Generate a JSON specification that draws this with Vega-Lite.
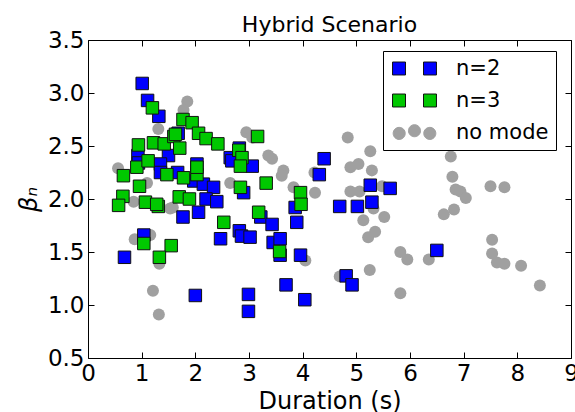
{
  "$schema": "https://vega.github.io/schema/vega-lite/v6.json",
  "width": 483,
  "height": 318,
  "autosize": "none",
  "padding": {"left": 88, "top": 40, "right": 4, "bottom": 54},
  "background": "white",
  "title": {"text": "Hybrid Scenario", "fontSize": 22, "font": "DejaVu Sans", "fontWeight": "normal", "anchor": "middle", "frame": "group", "offset": -8, "color": "black"},
  "config": {
    "view": {"stroke": "black", "strokeWidth": 1},
    "font": "DejaVu Sans",
    "axis": {"grid": false, "domain": false, "tickColor": "black", "tickSize": -6, "tickWidth": 1, "labelColor": "black", "titleColor": "black", "labelFont": "DejaVu Sans", "titleFont": "DejaVu Sans", "labelFontSize": 23, "titleFontSize": 24, "titleFontWeight": "normal", "labelFlush": false, "labelOverlap": false}
  },
  "data": {"values": [
    {"duration": 1.01, "beta": 3.09, "mode": "n=2"},
    {"duration": 1.11, "beta": 2.93, "mode": "n=2"},
    {"duration": 1.32, "beta": 2.78, "mode": "n=2"},
    {"duration": 0.93, "beta": 2.41, "mode": "n=2"},
    {"duration": 1.50, "beta": 2.41, "mode": "n=2"},
    {"duration": 1.35, "beta": 2.33, "mode": "n=2"},
    {"duration": 1.35, "beta": 2.25, "mode": "n=2"},
    {"duration": 0.94, "beta": 2.34, "mode": "n=2"},
    {"duration": 1.68, "beta": 2.62, "mode": "n=2"},
    {"duration": 1.67, "beta": 2.25, "mode": "n=2"},
    {"duration": 1.97, "beta": 2.17, "mode": "n=2"},
    {"duration": 2.03, "beta": 2.33, "mode": "n=2"},
    {"duration": 2.15, "beta": 2.14, "mode": "n=2"},
    {"duration": 2.34, "beta": 2.11, "mode": "n=2"},
    {"duration": 2.20, "beta": 2.00, "mode": "n=2"},
    {"duration": 2.40, "beta": 1.975, "mode": "n=2"},
    {"duration": 1.77, "beta": 1.83, "mode": "n=2"},
    {"duration": 2.06, "beta": 1.875, "mode": "n=2"},
    {"duration": 2.65, "beta": 2.39, "mode": "n=2"},
    {"duration": 2.82, "beta": 2.48, "mode": "n=2"},
    {"duration": 2.68, "beta": 2.36, "mode": "n=2"},
    {"duration": 3.06, "beta": 2.31, "mode": "n=2"},
    {"duration": 2.90, "beta": 2.06, "mode": "n=2"},
    {"duration": 2.82, "beta": 1.70, "mode": "n=2"},
    {"duration": 2.86, "beta": 1.65, "mode": "n=2"},
    {"duration": 3.02, "beta": 1.64, "mode": "n=2"},
    {"duration": 2.47, "beta": 1.625, "mode": "n=2"},
    {"duration": 3.22, "beta": 1.83, "mode": "n=2"},
    {"duration": 3.43, "beta": 1.76, "mode": "n=2"},
    {"duration": 3.45, "beta": 1.59, "mode": "n=2"},
    {"duration": 3.58, "beta": 1.625, "mode": "n=2"},
    {"duration": 3.58, "beta": 1.47, "mode": "n=2"},
    {"duration": 3.89, "beta": 1.78, "mode": "n=2"},
    {"duration": 3.86, "beta": 1.92, "mode": "n=2"},
    {"duration": 3.96, "beta": 1.47, "mode": "n=2"},
    {"duration": 3.69, "beta": 1.19, "mode": "n=2"},
    {"duration": 4.04, "beta": 1.05, "mode": "n=2"},
    {"duration": 2.99, "beta": 1.10, "mode": "n=2"},
    {"duration": 2.99, "beta": 0.94, "mode": "n=2"},
    {"duration": 2.00, "beta": 1.09, "mode": "n=2"},
    {"duration": 1.04, "beta": 1.66, "mode": "n=2"},
    {"duration": 0.68, "beta": 1.45, "mode": "n=2"},
    {"duration": 4.40, "beta": 2.38, "mode": "n=2"},
    {"duration": 4.31, "beta": 2.23, "mode": "n=2"},
    {"duration": 4.69, "beta": 1.93, "mode": "n=2"},
    {"duration": 5.02, "beta": 1.93, "mode": "n=2"},
    {"duration": 5.29, "beta": 1.97, "mode": "n=2"},
    {"duration": 5.26, "beta": 2.13, "mode": "n=2"},
    {"duration": 5.63, "beta": 2.10, "mode": "n=2"},
    {"duration": 4.81, "beta": 1.275, "mode": "n=2"},
    {"duration": 4.92, "beta": 1.19, "mode": "n=2"},
    {"duration": 6.50, "beta": 1.515, "mode": "n=2"},
    {"duration": 1.20, "beta": 2.86, "mode": "n=3"},
    {"duration": 0.94, "beta": 2.51, "mode": "n=3"},
    {"duration": 1.22, "beta": 2.53, "mode": "n=3"},
    {"duration": 1.42, "beta": 2.52, "mode": "n=3"},
    {"duration": 1.60, "beta": 2.59, "mode": "n=3"},
    {"duration": 1.77, "beta": 2.75, "mode": "n=3"},
    {"duration": 1.94, "beta": 2.72, "mode": "n=3"},
    {"duration": 1.63, "beta": 2.61, "mode": "n=3"},
    {"duration": 2.06, "beta": 2.62, "mode": "n=3"},
    {"duration": 2.20, "beta": 2.57, "mode": "n=3"},
    {"duration": 2.42, "beta": 2.52, "mode": "n=3"},
    {"duration": 1.71, "beta": 2.48, "mode": "n=3"},
    {"duration": 2.81, "beta": 2.46, "mode": "n=3"},
    {"duration": 2.87, "beta": 2.39, "mode": "n=3"},
    {"duration": 3.16, "beta": 2.59, "mode": "n=3"},
    {"duration": 0.66, "beta": 2.22, "mode": "n=3"},
    {"duration": 0.91, "beta": 2.30, "mode": "n=3"},
    {"duration": 1.12, "beta": 2.36, "mode": "n=3"},
    {"duration": 1.47, "beta": 2.23, "mode": "n=3"},
    {"duration": 0.96, "beta": 2.12, "mode": "n=3"},
    {"duration": 0.65, "beta": 2.025, "mode": "n=3"},
    {"duration": 0.57, "beta": 1.94, "mode": "n=3"},
    {"duration": 1.07, "beta": 1.97, "mode": "n=3"},
    {"duration": 1.31, "beta": 1.93, "mode": "n=3"},
    {"duration": 1.28, "beta": 1.95, "mode": "n=3"},
    {"duration": 1.70, "beta": 2.02, "mode": "n=3"},
    {"duration": 1.89, "beta": 2.00, "mode": "n=3"},
    {"duration": 1.78, "beta": 2.20, "mode": "n=3"},
    {"duration": 2.03, "beta": 2.23, "mode": "n=3"},
    {"duration": 2.03, "beta": 2.30, "mode": "n=3"},
    {"duration": 2.84, "beta": 2.31, "mode": "n=3"},
    {"duration": 2.84, "beta": 2.11, "mode": "n=3"},
    {"duration": 3.18, "beta": 1.875, "mode": "n=3"},
    {"duration": 2.53, "beta": 1.78, "mode": "n=3"},
    {"duration": 1.04, "beta": 1.58, "mode": "n=3"},
    {"duration": 1.55, "beta": 1.56, "mode": "n=3"},
    {"duration": 1.33, "beta": 1.45, "mode": "n=3"},
    {"duration": 3.57, "beta": 1.505, "mode": "n=3"},
    {"duration": 3.32, "beta": 2.15, "mode": "n=3"},
    {"duration": 3.96, "beta": 2.06, "mode": "n=3"},
    {"duration": 3.97, "beta": 1.95, "mode": "n=3"},
    {"duration": 0.56, "beta": 2.29, "mode": "no mode"},
    {"duration": 1.85, "beta": 2.92, "mode": "no mode"},
    {"duration": 1.78, "beta": 2.84, "mode": "no mode"},
    {"duration": 1.31, "beta": 2.66, "mode": "no mode"},
    {"duration": 2.95, "beta": 2.63, "mode": "no mode"},
    {"duration": 3.06, "beta": 2.58, "mode": "no mode"},
    {"duration": 3.36, "beta": 2.41, "mode": "no mode"},
    {"duration": 3.43, "beta": 2.38, "mode": "no mode"},
    {"duration": 2.65, "beta": 2.15, "mode": "no mode"},
    {"duration": 1.10, "beta": 2.15, "mode": "no mode"},
    {"duration": 0.85, "beta": 1.975, "mode": "no mode"},
    {"duration": 1.58, "beta": 1.92, "mode": "no mode"},
    {"duration": 1.53, "beta": 1.91, "mode": "no mode"},
    {"duration": 0.87, "beta": 1.62, "mode": "no mode"},
    {"duration": 1.16, "beta": 1.66, "mode": "no mode"},
    {"duration": 1.33, "beta": 1.39, "mode": "no mode"},
    {"duration": 1.21, "beta": 1.135, "mode": "no mode"},
    {"duration": 1.32, "beta": 0.91, "mode": "no mode"},
    {"duration": 3.64, "beta": 2.27, "mode": "no mode"},
    {"duration": 3.61, "beta": 2.22, "mode": "no mode"},
    {"duration": 3.83, "beta": 2.11, "mode": "no mode"},
    {"duration": 4.23, "beta": 2.06, "mode": "no mode"},
    {"duration": 4.22, "beta": 2.25, "mode": "no mode"},
    {"duration": 4.84, "beta": 2.58, "mode": "no mode"},
    {"duration": 4.89, "beta": 2.30, "mode": "no mode"},
    {"duration": 5.04, "beta": 2.33, "mode": "no mode"},
    {"duration": 5.26, "beta": 2.45, "mode": "no mode"},
    {"duration": 5.29, "beta": 2.27, "mode": "no mode"},
    {"duration": 4.89, "beta": 2.07, "mode": "no mode"},
    {"duration": 5.06, "beta": 2.07, "mode": "no mode"},
    {"duration": 5.48, "beta": 2.12, "mode": "no mode"},
    {"duration": 5.32, "beta": 1.91, "mode": "no mode"},
    {"duration": 5.52, "beta": 1.83, "mode": "no mode"},
    {"duration": 5.13, "beta": 1.80, "mode": "no mode"},
    {"duration": 5.35, "beta": 1.69, "mode": "no mode"},
    {"duration": 5.22, "beta": 1.64, "mode": "no mode"},
    {"duration": 4.05, "beta": 1.42, "mode": "no mode"},
    {"duration": 4.69, "beta": 1.27, "mode": "no mode"},
    {"duration": 5.25, "beta": 1.33, "mode": "no mode"},
    {"duration": 5.82, "beta": 1.50, "mode": "no mode"},
    {"duration": 5.95, "beta": 1.43, "mode": "no mode"},
    {"duration": 5.82, "beta": 1.11, "mode": "no mode"},
    {"duration": 6.35, "beta": 1.43, "mode": "no mode"},
    {"duration": 6.76, "beta": 2.40, "mode": "no mode"},
    {"duration": 6.79, "beta": 2.21, "mode": "no mode"},
    {"duration": 6.85, "beta": 2.09, "mode": "no mode"},
    {"duration": 6.94, "beta": 2.07, "mode": "no mode"},
    {"duration": 7.04, "beta": 2.01, "mode": "no mode"},
    {"duration": 6.63, "beta": 1.855, "mode": "no mode"},
    {"duration": 6.82, "beta": 1.90, "mode": "no mode"},
    {"duration": 7.50, "beta": 2.12, "mode": "no mode"},
    {"duration": 7.76, "beta": 2.11, "mode": "no mode"},
    {"duration": 7.53, "beta": 1.615, "mode": "no mode"},
    {"duration": 7.53, "beta": 1.485, "mode": "no mode"},
    {"duration": 7.62, "beta": 1.40, "mode": "no mode"},
    {"duration": 7.76, "beta": 1.39, "mode": "no mode"},
    {"duration": 8.07, "beta": 1.37, "mode": "no mode"},
    {"duration": 8.42, "beta": 1.185, "mode": "no mode"}
  ]},
  "layer": [
    {
      "transform": [{"filter": "datum.mode === 'no mode'"}],
      "mark": {"type": "point", "shape": "circle", "filled": true, "size": 144, "color": "#a0a0a0", "opacity": 1, "strokeWidth": 0},
      "encoding": {
        "x": {"field": "duration", "type": "quantitative", "scale": {"domain": [0, 9], "nice": false, "zero": false},
              "axis": {"orient": "bottom", "values": [0,1,2,3,4,5,6,7,8,9], "title": "Duration (s)", "labelPadding": 10, "titlePadding": 4}},
        "y": {"field": "beta", "type": "quantitative", "scale": {"domain": [0.5, 3.5], "nice": false, "zero": false},
              "axis": {"orient": "left", "values": [0.5,1,1.5,2,2.5,3,3.5], "format": ".1f", "title": "βₙ", "titleFontStyle": "italic", "labelPadding": 10, "titlePadding": 6}}
      }
    },
    {
      "transform": [{"filter": "datum.mode !== 'no mode'"}],
      "mark": {"type": "point", "shape": "square", "filled": true, "size": 156, "stroke": "#111111", "strokeWidth": 1, "opacity": 1},
      "encoding": {
        "x": {"field": "duration", "type": "quantitative", "axis": null},
        "y": {"field": "beta", "type": "quantitative", "axis": null},
        "fill": {"field": "mode", "type": "nominal", "scale": {"domain": ["n=2", "n=3", "no mode"], "range": ["#0000ff", "#00c800", "#a0a0a0"]}}
      }
    },
    {
      "transform": [{"filter": "false"}],
      "mark": {"type": "point", "filled": true},
      "encoding": {
        "x": {"field": "duration", "type": "quantitative", "axis": null},
        "y": {"field": "beta", "type": "quantitative", "axis": null},
        "fill": {"field": "mode", "type": "nominal", "scale": {"domain": ["n=2", "n=3", "no mode"], "range": ["#0000ff", "#00c800", "#a0a0a0"]},
                 "legend": {"orient": "none", "legendX": 295, "legendY": 11, "title": null, "padding": 7, "strokeColor": "black", "fillColor": "white", "cornerRadius": 0, "symbolSize": 324, "symbolStrokeWidth": 1, "symbolOffset": 14, "labelOffset": 31, "rowPadding": 10, "labelFontSize": 21, "labelFont": "DejaVu Sans", "labelColor": "black", "symbolOpacity": 1}},
        "stroke": {"field": "mode", "type": "nominal", "scale": {"domain": ["n=2", "n=3", "no mode"], "range": ["#111111", "#111111", "#a0a0a0"]},
                 "legend": {"orient": "none", "legendX": 295, "legendY": 11, "title": null, "padding": 7, "strokeColor": "black", "fillColor": "white", "cornerRadius": 0, "symbolSize": 324, "symbolStrokeWidth": 1, "symbolOffset": 14, "labelOffset": 31, "rowPadding": 10, "labelFontSize": 21, "labelFont": "DejaVu Sans", "labelColor": "black", "symbolOpacity": 1}},
        "shape": {"field": "mode", "type": "nominal", "scale": {"domain": ["n=2", "n=3", "no mode"], "range": [
                    "M-2.44,-0.72H-1V0.72H-2.44Z M1,-0.72H2.44V0.72H1Z",
                    "M-2.44,-0.72H-1V0.72H-2.44Z M1,-0.72H2.44V0.72H1Z",
                    "M-2.37,0.1a0.67,0.67 0 1,0 1.34,0a0.67,0.67 0 1,0 -1.34,0Z M-0.67,-0.2a0.67,0.67 0 1,0 1.34,0a0.67,0.67 0 1,0 -1.34,0Z M1.03,0.1a0.67,0.67 0 1,0 1.34,0a0.67,0.67 0 1,0 -1.34,0Z"]},
                 "legend": {"orient": "none", "legendX": 295, "legendY": 11, "title": null, "padding": 7, "strokeColor": "black", "fillColor": "white", "cornerRadius": 0, "symbolSize": 324, "symbolStrokeWidth": 1, "symbolOffset": 14, "labelOffset": 31, "rowPadding": 10, "labelFontSize": 21, "labelFont": "DejaVu Sans", "labelColor": "black", "symbolOpacity": 1}}
      }
    },
    {
      "mark": {"type": "point", "opacity": 0},
      "encoding": {
        "x": {"field": "duration", "type": "quantitative", "axis": {"orient": "top", "values": [0,1,2,3,4,5,6,7,8,9], "labels": false, "title": null}},
        "y": {"field": "beta", "type": "quantitative", "axis": {"orient": "right", "values": [0.5,1,1.5,2,2.5,3,3.5], "labels": false, "title": null}}
      }
    }
  ]
}
